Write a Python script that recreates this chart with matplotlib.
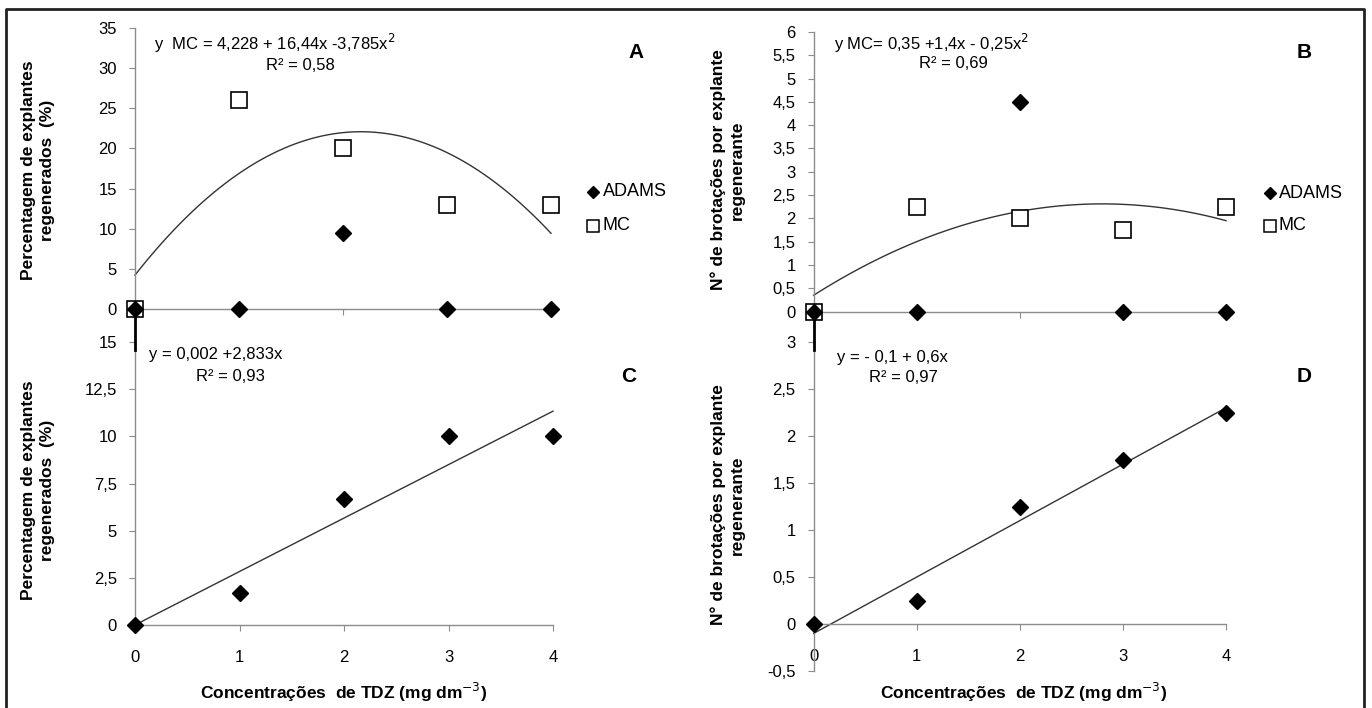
import numpy as np
import matplotlib
matplotlib.use("Agg")
import matplotlib.pyplot as plt
from matplotlib.lines import Line2D

plt.rcParams['font.family'] = ['Liberation Sans', 'DejaVu Sans']

# dados
doses = [0, 1, 2, 3, 4]
a_adams = [0, 0, 9.5, 0, 0]
a_mc = [0, 26, 20, 13, 13]
b_adams = [0, 0, 4.5, 0, 0]
b_mc = [0, 2.25, 2.0, 1.75, 2.25]
c_adams = [0, 1.67, 6.67, 10, 10]
d_adams = [0, 0.25, 1.25, 1.75, 2.25]

# coeficientes das regressoes (c0, c1, c2)
coef_a = [4.228, 16.44, -3.785]
coef_b = [0.35, 1.4, -0.25]
coef_c = [0.002, 2.833, 0]
coef_d = [-0.1, 0.6, 0]

W, H = 1372, 708
fig = plt.figure(figsize=(W / 100, H / 100), dpi=100)


def box(x0, y0, x1, y1):
    # pixel box -> figure fraction
    return [x0 / W, 1 - y1 / H, (x1 - x0) / W, (y1 - y0) / H]


def fx(x):
    return x / W


def fy(y):
    return 1 - y / H


GRAY = '#8c8c8c'
TICK_FS = 12


def style(ax, ylim, yticks, ylabels, xlabels, xzero=False):
    ax.set_xlim(0, 4)
    ax.set_ylim(*ylim)
    if xzero:
        ax.spines['bottom'].set_position(('data', 0))
    for s in ['top', 'right']:
        ax.spines[s].set_visible(False)
    for s in ['left', 'bottom']:
        ax.spines[s].set_color(GRAY)
        ax.spines[s].set_linewidth(1.0)
    ax.set_xticks(doses)
    ax.set_yticks(yticks)
    ax.set_yticklabels(ylabels)
    if xlabels:
        ax.set_xticklabels([str(d) for d in doses])
    else:
        ax.set_xticklabels([])
    ax.tick_params(axis='y', direction='out', length=4, color=GRAY, pad=9, labelsize=TICK_FS)
    ax.tick_params(axis='x', direction='out', length=4, color=GRAY, pad=14, labelsize=TICK_FS)
    ax.patch.set_alpha(0)


def fit(ax, coef):
    xs = np.linspace(0, 4, 100)
    ys = coef[0] + coef[1] * xs + coef[2] * xs ** 2
    ax.plot(xs, ys, color='#333333', lw=1.0, zorder=2, clip_on=False)


def pts(ax, y, kind):
    if kind == 'mc':
        ax.plot(doses, y, ls='none', marker='s', ms=11, mfc='white', mec='black',
                mew=1.2, zorder=3, clip_on=False)
    else:
        ax.plot(doses, y, ls='none', marker='D', ms=8, mfc='black', mec='black',
                zorder=4, clip_on=False)


def fmt(v):
    return ('%g' % v).replace('.', ',')


# A
axA = fig.add_axes(box(135, 28, 551, 309))
ta = list(range(0, 36, 5))
style(axA, (0, 35), ta, [fmt(t) for t in ta], False)
fit(axA, coef_a)
pts(axA, a_mc, 'mc')
pts(axA, a_adams, 'adams')

# B
axB = fig.add_axes(box(813.7, 32, 1226, 311.5))
tb = [i * 0.5 for i in range(13)]
style(axB, (0, 6), tb, [fmt(t) for t in tb], False)
fit(axB, coef_b)
pts(axB, b_mc, 'mc')
pts(axB, b_adams, 'adams')

# C
axC = fig.add_axes(box(135, 342, 553, 625))
tc = [i * 2.5 for i in range(7)]
style(axC, (0, 15), tc, [fmt(t) for t in tc], True)
fit(axC, coef_c)
pts(axC, c_adams, 'adams')

# D
axD = fig.add_axes(box(813.7, 342, 1226, 671))
td = [i * 0.5 - 0.5 for i in range(8)]
style(axD, (-0.5, 3), td, [fmt(t) for t in td], True, xzero=True)
fit(axD, coef_d)
pts(axD, d_adams, 'adams')

# textos das equacoes
eq_fs = 12
fig.text(fx(154), fy(43), 'y  MC = 4,228 + 16,44x -3,785x$^2$', fontsize=eq_fs, va='center')
fig.text(fx(300), fy(65), 'R² = 0,58', fontsize=eq_fs, va='center', ha='center')
fig.text(fx(834), fy(43), 'y MC= 0,35 +1,4x - 0,25x$^2$', fontsize=eq_fs, va='center')
fig.text(fx(953), fy(64), 'R² = 0,69', fontsize=eq_fs, va='center', ha='center')
fig.text(fx(149), fy(355), 'y = 0,002 +2,833x', fontsize=eq_fs, va='center')
fig.text(fx(230), fy(377), 'R² = 0,93', fontsize=eq_fs, va='center', ha='center')
fig.text(fx(837), fy(358), 'y = - 0,1 + 0,6x', fontsize=eq_fs, va='center')
fig.text(fx(903), fy(378), 'R² = 0,97', fontsize=eq_fs, va='center', ha='center')

# letras dos paineis
for lt, x, y in [('A', 636, 53), ('B', 1304, 52), ('C', 629, 377), ('D', 1304, 377)]:
    fig.text(fx(x), fy(y), lt, fontsize=15, fontweight='bold', ha='center', va='center')

# rotulos dos eixos
lab_fs = 12.5
lab_pct = 'Percentagem de explantes\nregenerados  (%)'
lab_brot = 'N° de brotações por explante\nregenerante'
for x, y, s in [(38, 170, lab_pct), (38, 490, lab_pct), (728, 170, lab_brot), (728, 505, lab_brot)]:
    fig.text(fx(x), fy(y), s, rotation=90, fontsize=lab_fs, fontweight='bold',
             ha='center', va='center', multialignment='center', linespacing=1.3)
for x in [344, 1024]:
    fig.text(fx(x), fy(692), 'Concentrações  de TDZ (mg dm$^{-3}$)', fontsize=lab_fs,
             fontweight='bold', ha='center', va='center')

# legendas (A e B)
for mx, tx, y1, y2 in [(593, 603, 192, 226), (1270, 1279, 193, 226)]:
    fig.add_artist(Line2D([fx(mx)], [fy(y1)], marker='D', ms=6, mfc='black', mec='black', ls='none'))
    fig.add_artist(Line2D([fx(mx)], [fy(y2)], marker='s', ms=9, mfc='white', mec='black',
                          mew=1.1, ls='none'))
    fig.text(fx(tx), fy(y1), 'ADAMS', fontsize=13, va='center')
    fig.text(fx(tx), fy(y2), 'MC', fontsize=13, va='center')

# tracos pretos entre os paineis de cima e de baixo
for x in [135, 813.7]:
    fig.add_artist(Line2D([fx(x), fx(x)], [fy(309), fy(350)], color='black', lw=2))

# moldura
fig.add_artist(Line2D([fx(6), fx(6), fx(1364), fx(1364)], [fy(708), fy(9), fy(9), fy(708)],
                      color='#222222', lw=2))

fig.savefig('out.png', dpi=100)
